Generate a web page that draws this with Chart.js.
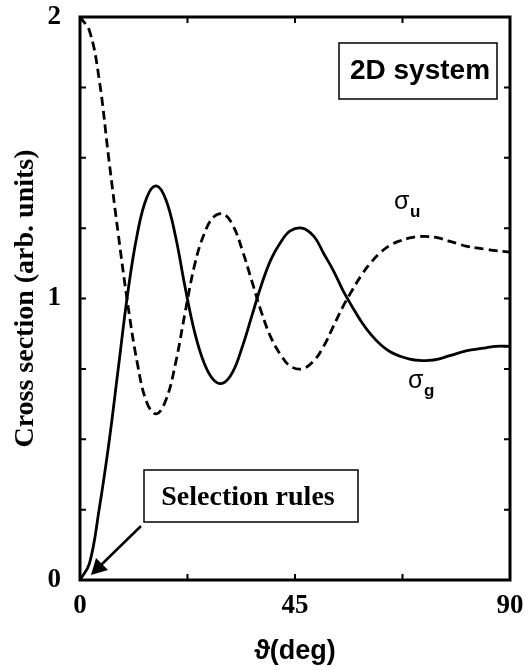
<!DOCTYPE html>
<html>
<head>
<meta charset="utf-8">
<script src="https://cdn.jsdelivr.net/npm/chart.js@4"></script>
<style>
  html, body { margin: 0; padding: 0; background: #fff; }
  #wrap { width: 532px; height: 670px; }
</style>
</head>
<body>
<div id="wrap"><canvas id="myChart" width="532" height="670"></canvas></div>
<script>
// angle in degrees
const angles = [0, 2, 4, 6, 8, 10, 12, 14, 16, 18, 20, 22, 24, 26, 28, 30, 32, 34, 36, 38, 40, 42, 44, 46.5,
                49, 51, 53, 55, 57, 59, 61, 63, 65, 67, 69, 71, 73, 75, 77, 79, 81, 83, 85, 87, 90];
// sigma_g (solid)
const sigmaG = [0, 0.06, 0.25, 0.48, 0.75, 1.02, 1.23, 1.36, 1.40, 1.35, 1.22, 1.04, 0.88, 0.77, 0.71, 0.70,
                0.74, 0.83, 0.94, 1.05, 1.14, 1.20, 1.24, 1.25, 1.22, 1.16, 1.10, 1.03, 0.97, 0.915, 0.87,
                0.835, 0.81, 0.795, 0.785, 0.78, 0.78, 0.785, 0.795, 0.805, 0.815, 0.82, 0.825, 0.83, 0.83];
// sigma_u (dashed)
const sigmaU = [2.0, 1.95, 1.78, 1.50, 1.23, 0.98, 0.77, 0.63, 0.59, 0.64, 0.77, 0.95, 1.12, 1.23, 1.29, 1.30,
                1.26, 1.17, 1.06, 0.95, 0.86, 0.80, 0.76, 0.75, 0.78, 0.83, 0.90, 0.97, 1.03, 1.085, 1.13,
                1.165, 1.19, 1.205, 1.215, 1.22, 1.22, 1.215, 1.205, 1.195, 1.185, 1.18, 1.175, 1.17, 1.165];
const xLabelTicks = [0, 45, 90];
const yLabelTicks = [0, 1, 2];

const serif = '"Liberation Serif", "Times New Roman", serif';
const sans = '"Liberation Sans", Arial, sans-serif';

function toPoints(ys) {
    return angles.map((a, i) => ({ x: a, y: ys[i] }));
}

// frame + inward ticks on all four sides
const frameTicks = {
    id: 'frameTicks',
    afterDatasetsDraw(chart) {
        const ctx = chart.ctx;
        const a = chart.chartArea;
        const xs = chart.scales.x, ys = chart.scales.y;
        ctx.save();
        ctx.strokeStyle = '#000';
        ctx.lineWidth = 2;
        xs.ticks.forEach(t => {
            const px = xs.getPixelForValue(t.value);
            ctx.beginPath();
            ctx.moveTo(px, a.bottom); ctx.lineTo(px, a.bottom - 6);
            ctx.moveTo(px, a.top); ctx.lineTo(px, a.top + 6);
            ctx.stroke();
        });
        ys.ticks.forEach(t => {
            const py = ys.getPixelForValue(t.value);
            ctx.beginPath();
            ctx.moveTo(a.left, py); ctx.lineTo(a.left + 6, py);
            ctx.moveTo(a.right, py); ctx.lineTo(a.right - 6, py);
            ctx.stroke();
        });
        ctx.lineWidth = 3;
        ctx.strokeRect(a.left, a.top, a.right - a.left, a.bottom - a.top);
        ctx.restore();
    }
};

// text boxes, arrow and curve labels
const notes = {
    id: 'notes',
    afterDraw(chart) {
        const ctx = chart.ctx;
        ctx.save();
        ctx.fillStyle = '#000';
        ctx.strokeStyle = '#000';

        // 2D system box
        ctx.lineWidth = 1.5;
        ctx.strokeRect(339, 43, 158, 56);
        ctx.font = 'bold 28px ' + sans;
        ctx.textAlign = 'center';
        ctx.textBaseline = 'alphabetic';
        ctx.fillText('2D system', 420, 79);

        // Selection rules box
        ctx.strokeRect(144, 470, 214, 52);
        ctx.font = 'bold 28px ' + serif;
        ctx.fillText('Selection rules', 248, 505);

        // arrow
        ctx.lineWidth = 2.5;
        ctx.beginPath();
        ctx.moveTo(141, 526);
        ctx.lineTo(100, 566);
        ctx.stroke();
        ctx.beginPath();
        ctx.moveTo(91, 575);
        ctx.lineTo(96, 558);
        ctx.lineTo(108, 570);
        ctx.closePath();
        ctx.fill();

        // curve labels
        ctx.textAlign = 'left';
        ctx.font = '25px ' + sans;
        ctx.fillText('σ', 394, 209);
        ctx.fillText('σ', 408, 388);
        ctx.font = 'bold 17px ' + sans;
        ctx.fillText('u', 410, 217);
        ctx.fillText('g', 424, 396);
        ctx.restore();
    }
};

new Chart(document.getElementById('myChart'), {
    type: 'line',
    data: {
        datasets: [{
            label: 'σg',
            data: toPoints(sigmaG),
            borderColor: '#000',
            borderWidth: 2.8,
            pointRadius: 0,
            tension: 0.4,
            fill: false
        }, {
            label: 'σu',
            data: toPoints(sigmaU),
            borderColor: '#000',
            borderWidth: 2.8,
            borderDash: [9, 5],
            pointRadius: 0,
            tension: 0.4,
            fill: false
        }]
    },
    options: {
        responsive: false,
        animation: false,
        layout: { padding: { left: 0, top: 17, right: 22, bottom: 0 } },
        plugins: {
            legend: { display: false },
            tooltip: { enabled: false }
        },
        scales: {
            x: {
                type: 'linear',
                min: 0,
                max: 90,
                afterFit: s => { s.height = 90; s.paddingLeft = 0; s.paddingRight = 0; },
                grid: { display: false, drawTicks: false },
                border: { display: false },
                ticks: {
                    stepSize: 22.5,
                    autoSkip: false,
                    maxRotation: 0,
                    padding: 10,
                    color: '#000',
                    font: { family: serif, size: 27, weight: 'bold' },
                    callback: v => xLabelTicks.includes(v) ? String(v) : ''
                },
                title: {
                    display: true,
                    text: 'ϑ(deg)',
                    color: '#000',
                    font: { family: sans, size: 27, weight: 'bold', lineHeight: 1.2 },
                    padding: { top: 0, bottom: 2 }
                }
            },
            y: {
                min: 0,
                max: 2,
                afterFit: s => { s.width = 80; s.paddingTop = 0; s.paddingBottom = 0; },
                grid: { display: false, drawTicks: false },
                border: { display: false },
                ticks: {
                    stepSize: 0.25,
                    autoSkip: false,
                    padding: 19,
                    color: '#000',
                    font: { family: serif, size: 27, weight: 'bold' },
                    callback: v => yLabelTicks.includes(v) ? String(v) : ''
                },
                title: {
                    display: true,
                    text: 'Cross section (arb. units)',
                    color: '#000',
                    font: { family: serif, size: 28, weight: 'bold', lineHeight: 1.2 },
                    padding: { top: 9, bottom: 0 }
                }
            }
        }
    },
    plugins: [frameTicks, notes]
});
</script>
</body>
</html>
